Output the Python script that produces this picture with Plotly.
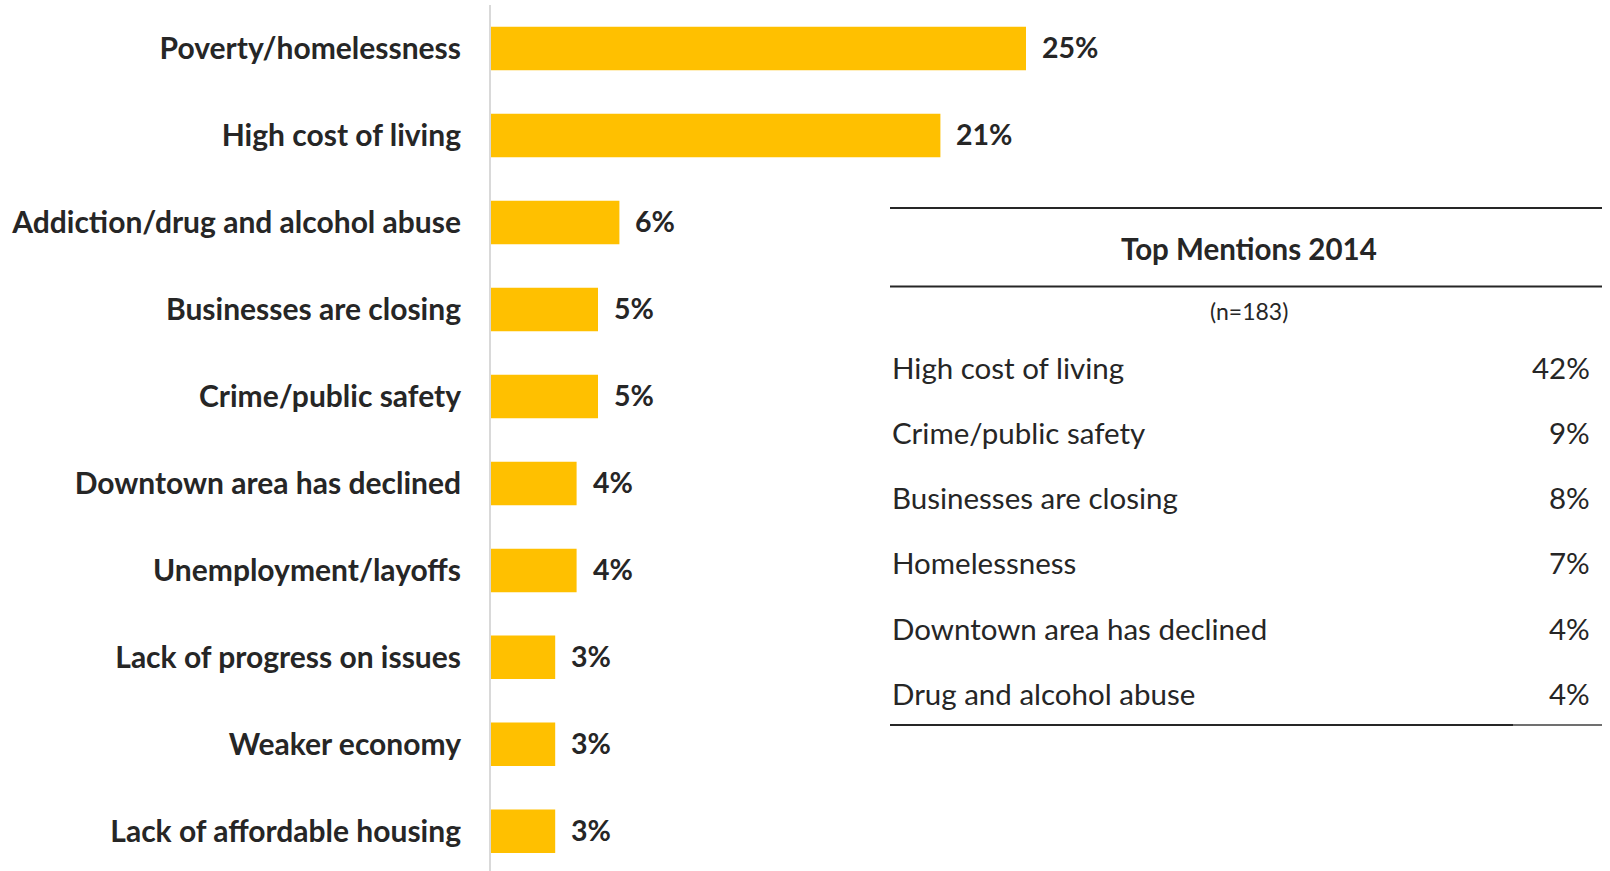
import plotly.graph_objects as go

# Survey responses: share mentioning each issue
categories = [
    "Poverty/homelessness",
    "High cost of living",
    "Addiction/drug and alcohol abuse",
    "Businesses are closing",
    "Crime/public safety",
    "Downtown area has declined",
    "Unemployment/layoffs",
    "Lack of progress on issues",
    "Weaker economy",
    "Lack of affordable housing",
]
values = [25, 21, 6, 5, 5, 4, 4, 3, 3, 3]

# Comparison table: top mentions from 2014
table_title = "Top Mentions 2014"
table_note = "(n=183)"
table_items = [
    "High cost of living",
    "Crime/public safety",
    "Businesses are closing",
    "Homelessness",
    "Downtown area has declined",
    "Drug and alcohol abuse",
]
table_values = [42, 9, 8, 7, 4, 4]

W, H = 1610, 871
ML, MT = 491, 5
PW, PH = W - ML, H - MT

FONT = "Lato"
TEXT = "#262626"
GOLD = "#FFC000"


def px_x(px):
    return (px - ML) / PW


def px_y(py):
    return 1 - (py - MT) / PH


fig = go.Figure(
    go.Bar(
        x=values,
        y=categories,
        orientation="h",
        marker=dict(color=GOLD, line=dict(width=0)),
        width=0.5,
        hoverinfo="skip",
    )
)

annotations = []
for cat, v in zip(categories, values):
    annotations.append(dict(
        x=v, y=cat, xref="x", yref="y", text=f"<b>{v}%</b>",
        showarrow=False, xanchor="left", yanchor="middle", xshift=14, yshift=1,
        font=dict(family=FONT, size=28.5, color=TEXT),
    ))

shapes = []
x0, x1 = px_x(890), px_x(1602)
shapes.append(dict(type="line", xref="paper", yref="paper", x0=x0, x1=x1,
                   y0=px_y(208), y1=px_y(208), line=dict(color=TEXT, width=2)))
shapes.append(dict(type="line", xref="paper", yref="paper", x0=x0, x1=x1,
                   y0=px_y(286.5), y1=px_y(286.5), line=dict(color=TEXT, width=2)))
shapes.append(dict(type="line", xref="paper", yref="paper", x0=x0, x1=px_x(1513),
                   y0=px_y(725), y1=px_y(725), line=dict(color=TEXT, width=2)))
shapes.append(dict(type="line", xref="paper", yref="paper", x0=px_x(1513), x1=x1,
                   y0=px_y(725), y1=px_y(725), line=dict(color="#707070", width=2)))

cx = px_x(1249)
annotations.append(dict(
    x=cx, y=px_y(248.5), xref="paper", yref="paper", text=f"<b>{table_title}</b>",
    showarrow=False, xanchor="center", yanchor="middle",
    font=dict(family=FONT, size=29.5, color=TEXT),
))
annotations.append(dict(
    x=cx, y=px_y(311), xref="paper", yref="paper", text=table_note,
    showarrow=False, xanchor="center", yanchor="middle",
    font=dict(family=FONT, size=23, color=TEXT),
))

row_y0, row_step = 367.6, 65.1
for i, (item, v) in enumerate(zip(table_items, table_values)):
    y = px_y(row_y0 + i * row_step)
    annotations.append(dict(
        x=px_x(890), y=y, xref="paper", yref="paper", text=item,
        showarrow=False, xanchor="left", yanchor="middle",
        font=dict(family=FONT, size=29.5, color=TEXT),
    ))
    annotations.append(dict(
        x=px_x(1592), y=y, xref="paper", yref="paper", text=f"{v}%",
        showarrow=False, xanchor="right", yanchor="middle",
        font=dict(family=FONT, size=29.5, color=TEXT),
    ))

fig.update_layout(
    width=W, height=H, autosize=False,
    margin=dict(l=ML, r=0, t=MT, b=0, pad=0),
    paper_bgcolor="white", plot_bgcolor="white",
    showlegend=False,
    bargap=0.5,
    xaxis=dict(range=[0, PW / 21.4], visible=False, fixedrange=True),
    yaxis=dict(
        range=[9.456, -0.5], showgrid=False, zeroline=False,
        showline=True, linecolor="#D9D9D9", linewidth=2,
        ticks="outside", ticklen=22, tickcolor="rgba(0,0,0,0)",
        tickfont=dict(family=FONT, size=30, color=TEXT, weight="bold"),
        fixedrange=True,
    ),
    annotations=annotations,
    shapes=shapes,
)

fig.write_html("out.html")
